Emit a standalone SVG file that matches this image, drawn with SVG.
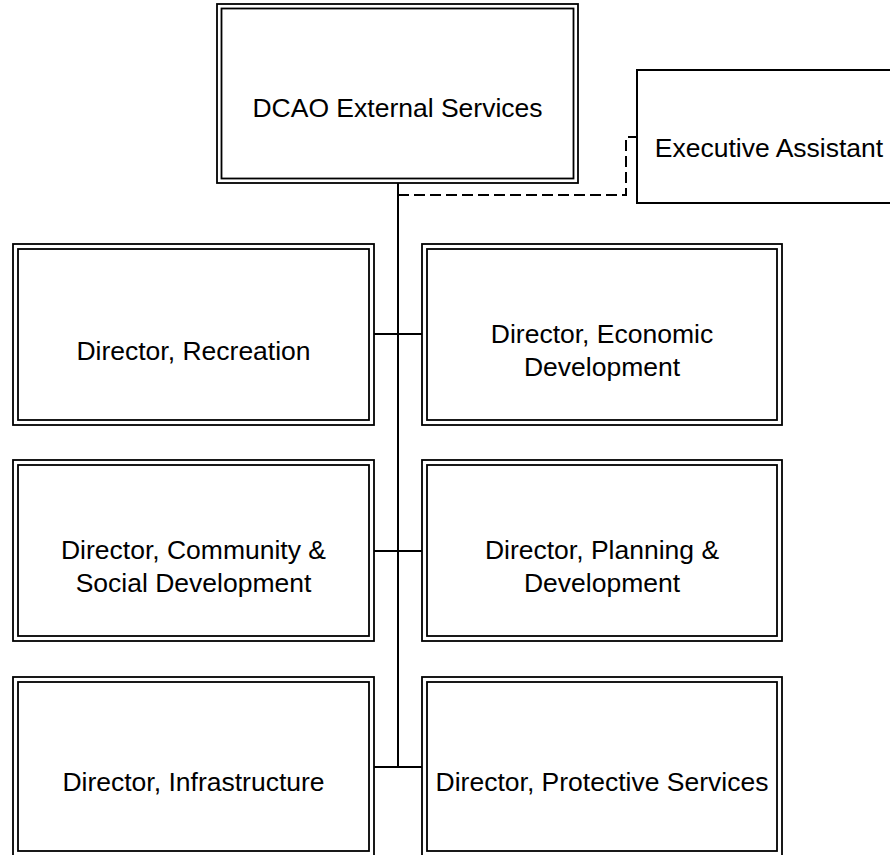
<svg xmlns="http://www.w3.org/2000/svg" width="890" height="855" viewBox="0 0 890 855">
<style>
.o{fill:#fff;stroke:#000;stroke-width:1.8}
.i{fill:none;stroke:#000;stroke-width:1.8}
.s{fill:#fff;stroke:#000;stroke-width:2}
.t{font-family:"Liberation Sans",Arial,sans-serif;font-size:26.5px;fill:#000;text-anchor:middle}
.c{fill:none;stroke:#000;stroke-width:2}
.d{fill:none;stroke:#000;stroke-width:2;stroke-dasharray:11 5}
</style>
<rect width="890" height="855" fill="#fff"/>
<g id="connectors">
<path class="c" d="M398,183 V767"/>
<path class="c" d="M374,334 H422 M374,551 H422 M374,767 H422"/>
<path class="d" d="M398,195 H626 V137 H637"/>
</g>
<g id="dcao">
<rect class="o" x="217" y="4" width="361" height="179"/>
<rect class="i" x="221.5" y="8.5" width="352" height="170"/>
<text class="t" x="397.5" y="117">DCAO External Services</text>
</g>
<g id="exec-assistant">
<rect class="s" x="637" y="70" width="264" height="133"/>
<text class="t" x="769" y="157">Executive Assistant</text>
</g>
<g id="recreation">
<rect class="o" x="13" y="244" width="361" height="181"/>
<rect class="i" x="18" y="249" width="351" height="171"/>
<text class="t" x="193.5" y="359.5">Director, Recreation</text>
</g>
<g id="economic">
<rect class="o" x="422" y="244" width="360" height="181"/>
<rect class="i" x="427" y="249" width="350" height="171"/>
<text class="t" x="602" y="343">Director, Economic</text>
<text class="t" x="602" y="376">Development</text>
</g>
<g id="community">
<rect class="o" x="13" y="460" width="361" height="181"/>
<rect class="i" x="18" y="465" width="351" height="171"/>
<text class="t" x="193.5" y="559">Director, Community &amp;</text>
<text class="t" x="193.5" y="592">Social Development</text>
</g>
<g id="planning">
<rect class="o" x="422" y="460" width="360" height="181"/>
<rect class="i" x="427" y="465" width="350" height="171"/>
<text class="t" x="602" y="559">Director, Planning &amp;</text>
<text class="t" x="602" y="592">Development</text>
</g>
<g id="infrastructure">
<rect class="o" x="13" y="677" width="361" height="181"/>
<rect class="i" x="18" y="682" width="351" height="169"/>
<text class="t" x="193.5" y="791">Director, Infrastructure</text>
</g>
<g id="protective">
<rect class="o" x="422" y="677" width="360" height="181"/>
<rect class="i" x="427" y="682" width="350" height="169"/>
<text class="t" x="602" y="791">Director, Protective Services</text>
</g>
</svg>
